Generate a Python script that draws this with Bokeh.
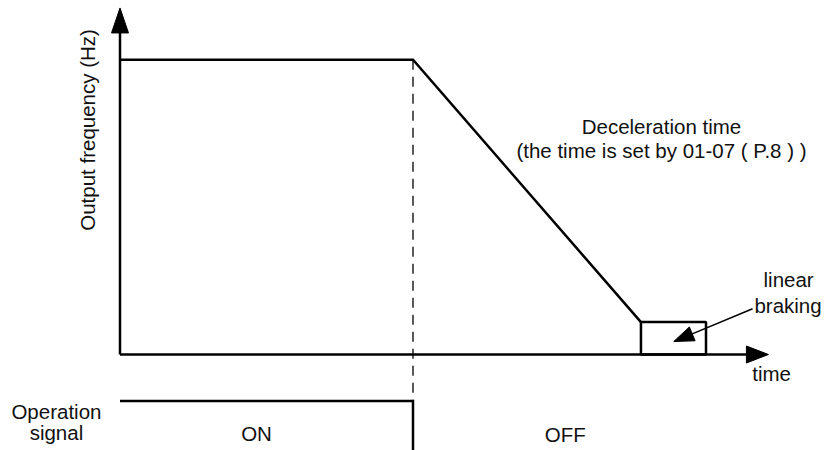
import math
from bokeh.plotting import figure
from bokeh.models import Range1d, ColumnDataSource
from bokeh.core.properties import value
from bokeh.embed import file_html
from bokeh.resources import INLINE

# ---- data (schematic units: time units, frequency in % of max) ----
profile_time = [0.0, 10.0, 17.78]      # start, operation OFF, reach braking level
profile_freq = [100.0, 100.0, 11.0]
brake_time = [17.78, 20.0]             # linear braking interval
brake_freq = [0.0, 11.0]
t_off = 10.0
signal_level = -15.8                   # operation signal "ON" level (lower panel)
x_axis_end = 22.13
y_axis_end = 117.6
brake_arrow_start = [21.59, 15.5]
brake_arrow_tip = [18.90, 4.4]

label_text = ["Output frequency (Hz)", "Deceleration time",
              "(the time is set by 01-07 ( P.8 ) )", "linear", "braking",
              "time", "Operation", "signal", "ON", "OFF"]
label_x = [-1.10, 18.48, 18.48, 22.82, 22.80, 22.24, -2.17, -2.17, 4.66, 15.20]
label_y = [76.2, 77.2, 69.1, 25.5, 16.7, -6.5, -19.2, -26.5, -26.8, -27.3]
label_angle = [math.pi / 2, 0, 0, 0, 0, 0, 0, 0, 0, 0]

# ---- scales (px per unit) ----
KT = 29.3
KF = 2.947
W, H = 824, 450
x0 = -119.5 / KT
y1 = 354.0 / KF
p = figure(width=W, height=H, x_range=Range1d(x0, x0 + W / KT),
           y_range=Range1d(y1 - H / KF, y1), toolbar_location=None,
           output_backend="svg", min_border=0, x_axis_type=None, y_axis_type=None)
p.grid.visible = False
p.outline_line_color = None
p.background_fill_color = "white"
p.border_fill_color = "white"

LW = 2.5
BLACK = "#000000"


def head(tip, ux, uy, length, half_w):
    """triangle in data units; ux, uy = unit direction in px (y up)"""
    bx, by = -ux * length, -uy * length
    nx, ny = -uy, ux
    xs = [tip[0], tip[0] + (bx + nx * half_w) / KT, tip[0] + (bx - nx * half_w) / KT]
    ys = [tip[1], tip[1] + (by + ny * half_w) / KF, tip[1] + (by - ny * half_w) / KF]
    return xs, ys


# axes with arrows
p.line([0, 0], [0, y_axis_end - 22 / KF], line_color=BLACK, line_width=LW)
p.line([0, x_axis_end - 20 / KT], [0, 0], line_color=BLACK, line_width=LW)
hx1, hy1 = head([0, y_axis_end], 0, 1, 25, 8.5)
hx2, hy2 = head([x_axis_end, 0], 1, 0, 22, 8.5)

# frequency profile
p.line(profile_time, profile_freq, line_color=BLACK, line_width=LW, line_join="miter")

# braking box
p.quad(left=brake_time[0], right=brake_time[1], bottom=brake_freq[0], top=brake_freq[1],
       fill_color=None, line_color=BLACK, line_width=LW)

# dashed OFF marker
p.line([t_off, t_off], [profile_freq[1], signal_level], line_color=BLACK,
       line_width=1.3, line_dash="10 7")

# operation signal
p.line([0, t_off, t_off], [signal_level, signal_level, y1 - H / KF - 5],
       line_color=BLACK, line_width=LW, line_join="miter")

# braking pointer arrow
dxp = (brake_arrow_tip[0] - brake_arrow_start[0]) * KT
dyp = (brake_arrow_tip[1] - brake_arrow_start[1]) * KF
ln = math.hypot(dxp, dyp)
ux, uy = dxp / ln, dyp / ln
hl = 20
p.line([brake_arrow_start[0], brake_arrow_tip[0] - ux * hl / KT],
       [brake_arrow_start[1], brake_arrow_tip[1] - uy * hl / KF],
       line_color=BLACK, line_width=1.6)
hx3, hy3 = head(brake_arrow_tip, ux, uy, hl, 7.5)

p.patches([hx1, hx2, hx3], [hy1, hy2, hy3], fill_color=BLACK, line_color=BLACK, line_width=1)

src = ColumnDataSource(dict(x=label_x, y=label_y, text=label_text, angle=label_angle))
p.text(x="x", y="y", text="text", angle="angle", source=src,
       text_font=value("Liberation Sans"), text_font_size="20.5px",
       text_align="center", text_baseline="middle", text_color="#111111")

open("out.html", "w").write(file_html(p, INLINE))
